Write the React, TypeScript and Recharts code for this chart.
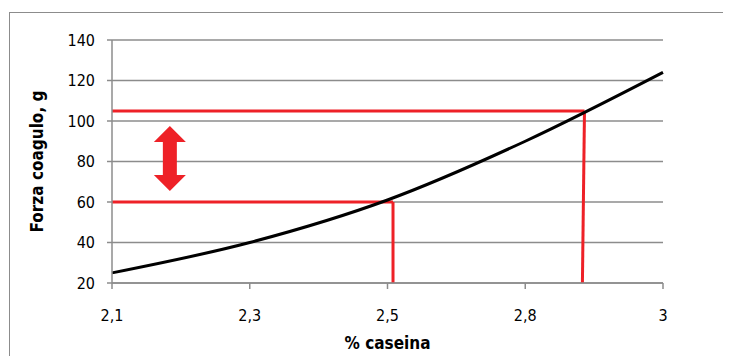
import React from "react";
import { LineChart, Line, XAxis, YAxis, CartesianGrid, ReferenceLine, ReferenceDot, Label } from "recharts";

const categories = ["2,1", "2,3", "2,5", "2,8", "3"];
const forza = [25, 40, 61, 90, 124];
const yTicks = [20, 40, 60, 80, 100, 120, 140];

const upperLevel = 105;
const upperX = 3.43;
const lowerLevel = 60;
const lowerX = 2.04;
const arrowX = 0.42;
const arrowY = 81.5;

const data = categories.map((c, i) => ({ i, forza: forza[i] }));

const RED = "#ee2127";
const GRID = "#8c8c8c";
const FONT = "'Liberation Sans Narrow', 'DejaVu Sans Condensed', 'Open Sans', sans-serif";

function DoubleArrow({ cx, cy }: any) {
  const pts = [
    [0, -32.5], [16, -16.5], [7, -16.5], [7, 16.5], [16, 16.5],
    [0, 32.5], [-16, 16.5], [-7, 16.5], [-7, -16.5], [-16, -16.5],
  ].map(([dx, dy]) => `${cx + dx},${cy + dy}`).join(" ");
  return <polygon points={pts} fill={RED} />;
}

function YLabel({ viewBox }: any) {
  const x = viewBox.x + 29;
  const y = viewBox.y + viewBox.height / 2;
  return (
    <text x={x} y={y} transform={`rotate(-90, ${x}, ${y})`} textAnchor="middle" dominantBaseline="central"
      fontFamily={FONT} fontWeight="bold" fontSize={17} fill="#000">
      Forza coagulo, g
    </text>
  );
}

export default function App() {
  return (
    <div style={{ position: "relative", width: 723, height: 348, overflow: "hidden" }}>
      <div style={{ position: "absolute", left: 1, top: 4, width: 800, height: 400, border: "1px solid #8c8c8c" }} />
      <LineChart width={723} height={348} data={data} margin={{ top: 32, right: 68, left: 0, bottom: 0 }}
        style={{ position: "absolute", left: 0, top: 0 }}>
        <CartesianGrid vertical={false} stroke={GRID} strokeWidth={1.5} />
        <XAxis dataKey="i" type="number" domain={[0, 4]} ticks={[0, 1, 2, 3, 4]} height={73}
          tickFormatter={(v) => categories[v]} stroke={GRID} strokeWidth={1.5} tickSize={6} tickMargin={21}
          tick={{ fill: "#000", fontSize: 16, fontFamily: FONT }}>
          <Label value="% caseina" position="insideBottom" offset={7}
            style={{ fontFamily: FONT, fontWeight: "bold", fontSize: 17, fill: "#000" }} />
        </XAxis>
        <YAxis type="number" domain={[20, 140]} ticks={yTicks} width={104} interval={0}
          stroke={GRID} strokeWidth={1.5} tickSize={5} tickMargin={12}
          tick={{ fill: "#000", fontSize: 16, fontFamily: FONT }}>
          <Label content={YLabel} />
        </YAxis>
        <ReferenceLine segment={[{ x: 0, y: upperLevel }, { x: upperX, y: upperLevel }]} stroke={RED} strokeWidth={3} />
        <ReferenceLine segment={[{ x: upperX, y: upperLevel }, { x: upperX - 0.015, y: 20 }]} stroke={RED} strokeWidth={3} />
        <ReferenceLine segment={[{ x: 0, y: lowerLevel }, { x: lowerX, y: lowerLevel }]} stroke={RED} strokeWidth={3} />
        <ReferenceLine segment={[{ x: lowerX, y: lowerLevel }, { x: lowerX, y: 20 }]} stroke={RED} strokeWidth={3} />
        <ReferenceDot x={arrowX} y={arrowY} shape={DoubleArrow} />
        <Line type="monotone" dataKey="forza" stroke="#000" strokeWidth={3} dot={false} isAnimationActive={false} />
      </LineChart>
    </div>
  );
}
